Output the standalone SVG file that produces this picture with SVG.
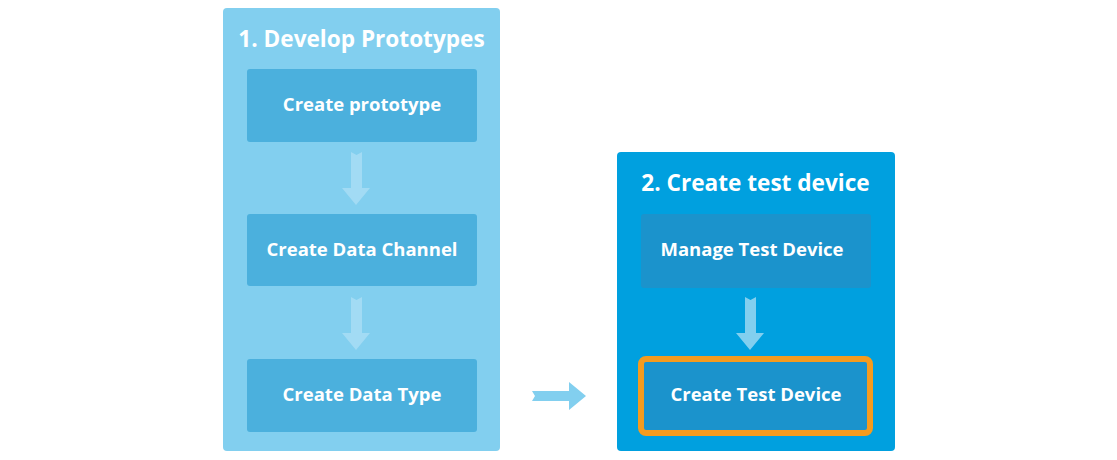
<svg xmlns="http://www.w3.org/2000/svg" width="1117" height="460" viewBox="0 0 1117 460">
<style>
.title{font-family:"Open Sans","Noto Sans",sans-serif;font-weight:700;font-size:22.6px;fill:#ffffff;text-anchor:middle}
.lbl{font-family:"Open Sans","Noto Sans",sans-serif;font-weight:700;font-size:18.5px;fill:#ffffff;text-anchor:middle}
.panel1{fill:#82cfef}
.panel2{fill:#00a0df}
.box1{fill:#4bb0dd}
.box2{fill:#1b93cc}
</style>
<rect width="1117" height="460" fill="#ffffff"/>
<g id="panel-develop">
<rect class="panel1" x="223" y="8" width="277" height="443" rx="4"/>
<text class="title" x="361.5" y="47">1. Develop Prototypes</text>
</g>
<g id="node-create-prototype">
<rect class="box1" x="247" y="69" width="230" height="73" rx="3"/>
<text class="lbl" x="362" y="111">Create prototype</text>
</g>
<g id="node-create-data-channel">
<rect class="box1" x="247" y="214" width="230" height="72" rx="3"/>
<text class="lbl" x="362" y="256">Create Data Channel</text>
</g>
<g id="node-create-data-type">
<rect class="box1" x="247" y="359" width="230" height="73" rx="3"/>
<text class="lbl" x="362" y="401">Create Data Type</text>
</g>
<g id="panel-test-device">
<rect class="panel2" x="617" y="152" width="278" height="299" rx="4"/>
<text class="title" x="755.5" y="191">2. Create test device</text>
</g>
<g id="node-manage-test-device">
<rect class="box2" x="641" y="214" width="230" height="74" rx="3"/>
<text class="lbl" x="752" y="256">Manage Test Device</text>
</g>
<g id="node-create-test-device">
<rect class="box2" x="641" y="359" width="229" height="74" rx="5" stroke="#f59b1e" stroke-width="6"/>
<text class="lbl" x="756" y="401">Create Test Device</text>
</g>
<g id="connectors">
<polygon fill="#a2dbf4" points="351,152 356.5,155 362,152 362,188 370,188 356,205 342,188 351,188"/>
<polygon fill="#a2dbf4" points="351,297 356.5,300 362,297 362,333 370,333 356,350 342,333 351,333"/>
<polygon fill="#82cfef" points="745,297 750.5,300 756,297 756,333 764,333 750,350 736,333 745,333"/>
<polygon fill="#82cfef" points="532,391 569,391 569,382 586,396 569,410 569,401 532,401 535,396"/>
</g>
</svg>
